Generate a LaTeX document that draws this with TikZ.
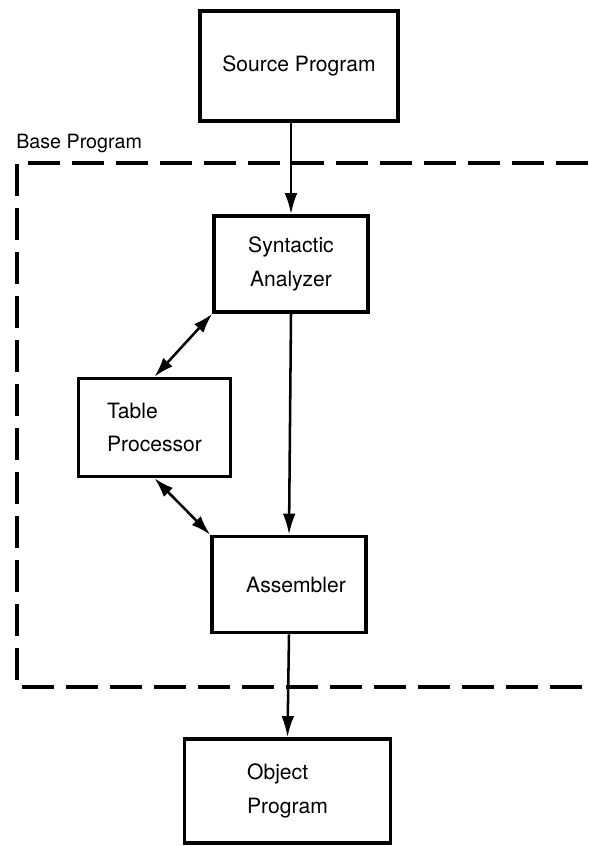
\documentclass[tikz,border=0pt]{standalone}
\usepackage{fontspec}
\setmainfont{TeX Gyre Heros}
\usetikzlibrary{arrows.meta,positioning,calc}

\begin{document}
\begin{tikzpicture}[x=0.025cm, y=-0.025cm,
    block/.style={draw, line width=2.5pt, inner sep=0pt, font=\fontsize{15}{24}\selectfont},
    flow/.style={line width=1.8pt, -{Latex[length=15pt,width=9pt]}},
    twoway/.style={line width=1.8pt, {Latex[length=14pt,width=9pt]}-{Latex[length=14pt,width=9pt]}}]
    \useasboundingbox (0,0) rectangle (588,846);

    % Base Program frame
    \draw[line width=2.4pt, dash pattern=on 0.8cm off 0.3cm] (588,163) -- (17,163) -- (17,687) -- (588,687);
    \node[anchor=west, inner sep=0pt, font=\fontsize{14}{16}\selectfont] (base) at (16,143) {Base Program};

    % Boxes
    \node[block, minimum width=4.95cm, minimum height=2.75cm] (src) at (299,66) {Source Program};
    \node[block, minimum width=3.85cm, minimum height=2.4cm, align=center] (syn) at (291,264) {Syntactic\\Analyzer};
    \node[block, minimum width=3.8cm, minimum height=2.45cm, align=left] (tab) at (154.5,427.5) {Table\\Processor};
    \node[block, minimum width=3.85cm, minimum height=2.4cm] (asm) at (289,584.5) {\hspace*{0.35cm}Assembler};
    \node[block, minimum width=5.15cm, minimum height=2.6cm, align=left] (obj) at (287.5,791) {Object\\Program};

    % Arrows
    \draw[flow] (syn.north |- src.south) -- (syn.north);
    \draw[flow] (syn.south) -- (asm.north);
    \draw[twoway] (syn.south west) -- (tab.north);
    \draw[twoway] (tab.south) -- (asm.north west);
    \draw[flow] (asm.south) -- (obj.north);
\end{tikzpicture}
\end{document}
